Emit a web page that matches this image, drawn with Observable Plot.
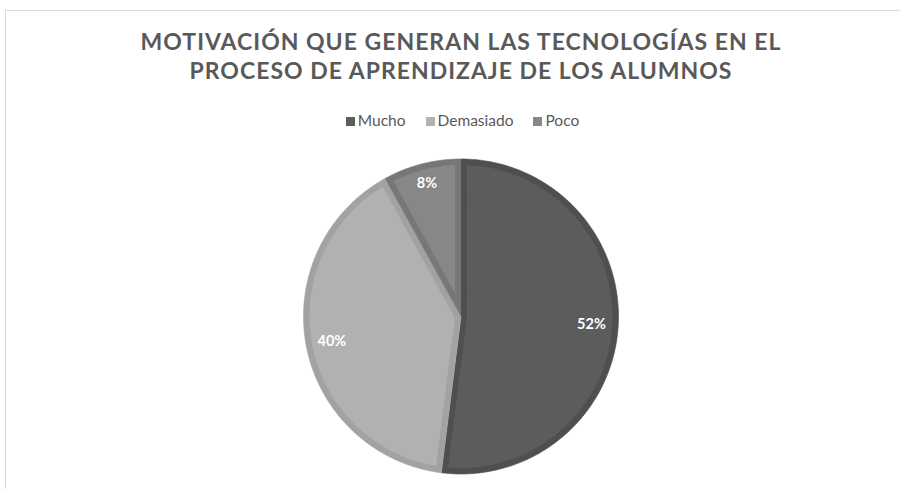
<!DOCTYPE html>
<html>
<head>
<meta charset="utf-8">
<script src="https://cdn.jsdelivr.net/npm/d3@7"></script>
<script src="https://cdn.jsdelivr.net/npm/@observablehq/plot@0.6"></script>
<style>
  html, body { margin: 0; padding: 0; background: #fff; overflow: hidden; width: 900px; height: 489px; }
  #frame { position: absolute; left: 5px; top: 10px; width: 930px; height: 520px; border: 1px solid #d9d9d9; box-sizing: border-box; }
  #wrap { position: absolute; left: 0; top: 0; width: 922px; font-family: Lato, "Open Sans", sans-serif; color: #595959; }
  #title { text-align: center; font-weight: 700; font-size: 23px; line-height: 29px; padding-top: 27px; letter-spacing: 1px; }
  #legend { display: flex; justify-content: center; gap: 20px; margin-top: 25px; height: 20px; line-height: 20px; font-size: 15.5px; padding-left: 3px; }
  .item { display: flex; align-items: center; gap: 3px; }
  .sw { width: 9px; height: 9px; display: inline-block; margin-top: 2px; }
  #chart { position: absolute; left: 0; top: 130px; }
</style>
</head>
<body>
<div id="frame"></div>
<div id="wrap">
  <div id="title">MOTIVACIÓN QUE GENERAN LAS TECNOLOGÍAS EN EL<br>PROCESO DE APRENDIZAJE DE LOS ALUMNOS</div>
  <div id="legend"></div>
</div>
<div id="chart"></div>
<script>
// ---- data ----
const categories = ["Mucho", "Demasiado", "Poco"];
const values = [52, 40, 8];
const labels = ["52%", "40%", "8%"];
// ---- style ----
const fillColors = ["#5c5c5c", "#b1b1b1", "#878787"];
const borderColors = ["#4f4f4f", "#a2a2a2", "#777777"];
const labelRadius = [0.83, 0.835, 0.87];

const W = 900, H = 359;
const cx = 460.5, cy = 186, R = 157.5;
const band = 6 / R; // inner border width in unit radius

// legend
const leg = document.getElementById("legend");
categories.forEach((c, i) => {
  const it = document.createElement("div");
  it.className = "item";
  it.innerHTML = `<span class="sw" style="background:${fillColors[i]}"></span><span>${c}</span>`;
  leg.appendChild(it);
});

const arcs = d3.pie().sort(null).value(d => d)(values);
const pt = (a, r) => ({x: r * Math.sin(a), y: r * Math.cos(a)});

function outer(a0, a1) {
  const n = Math.max(8, Math.ceil((a1 - a0) / (2 * Math.PI) * 360));
  const pts = [pt(0, 0)];
  for (let k = 0; k <= n; k++) pts.push(pt(a0 + (a1 - a0) * k / n, 1));
  return pts;
}
function inner(a0, a1) {
  const th = a1 - a0;
  const t = th < Math.PI ? band / Math.sin(th / 2) : band;
  const mid = (a0 + a1) / 2;
  const rr = 1 - band;
  const dl = Math.asin(band / rr);
  const b0 = a0 + dl, b1 = a1 - dl;
  const n = Math.max(8, Math.ceil((b1 - b0) / (2 * Math.PI) * 360));
  const pts = [pt(mid, t)];
  for (let k = 0; k <= n; k++) pts.push(pt(b0 + (b1 - b0) * k / n, rr));
  return pts;
}

const marks = [];
arcs.forEach((a, i) => {
  marks.push(Plot.line(outer(a.startAngle, a.endAngle), {x: "x", y: "y", fill: borderColors[i], stroke: borderColors[i], strokeWidth: 0.6}));
});
arcs.forEach((a, i) => {
  marks.push(Plot.line(inner(a.startAngle, a.endAngle), {x: "x", y: "y", fill: fillColors[i], stroke: "none"}));
});
const labelData = arcs.map((a, i) => {
  const m = (a.startAngle + a.endAngle) / 2;
  return {...pt(m, labelRadius[i]), text: labels[i]};
});
marks.push(Plot.text(labelData, {x: "x", y: "y", text: "text", fill: "white", fontSize: 14.5, fontWeight: "bold", fontFamily: "Lato, 'Open Sans', sans-serif"}));

const chart = Plot.plot({
  width: W, height: H,
  margin: 0,
  x: {domain: [-1, 1], range: [cx - R, cx + R], axis: null},
  y: {domain: [-1, 1], range: [cy + R, cy - R], axis: null},
  style: {background: "transparent", overflow: "visible"},
  marks
});
document.getElementById("chart").appendChild(chart);
</script>
</body>
</html>
